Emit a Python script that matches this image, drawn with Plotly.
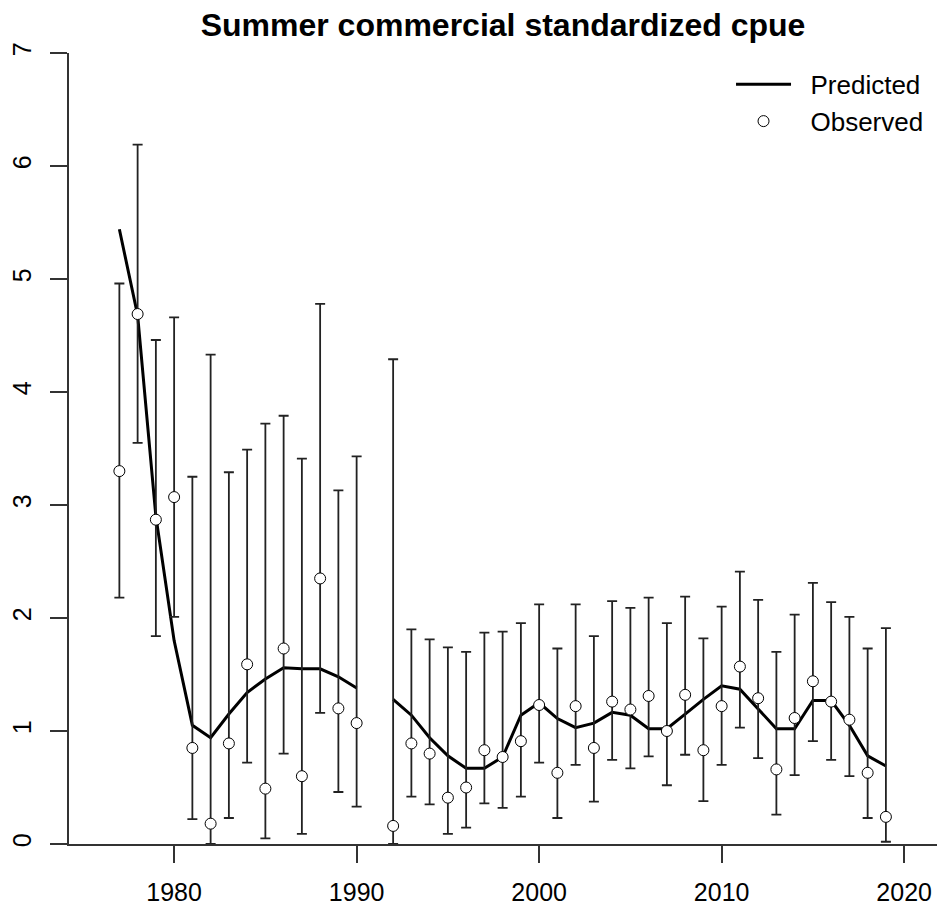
import plotly.graph_objects as go

years = list(range(1977, 2020))

observed = [3.30, 4.69, 2.87, 3.07, 0.85, 0.18, 0.89, 1.59, 0.49, 1.73,
            0.60, 2.35, 1.20, 1.07, None, 0.16, 0.89, 0.80, 0.41, 0.50,
            0.83, 0.77, 0.91, 1.23, 0.63, 1.22, 0.85, 1.26, 1.19, 1.31,
            1.00, 1.32, 0.83, 1.22, 1.57, 1.29, 0.66, 1.115, 1.44, 1.26,
            1.10, 0.63, 0.24]

lower = [2.18, 3.55, 1.84, 2.01, 0.22, 0.00, 0.23, 0.72, 0.05, 0.80,
         0.09, 1.16, 0.46, 0.33, None, 0.00, 0.42, 0.35, 0.09, 0.145,
         0.36, 0.32, 0.42, 0.72, 0.23, 0.70, 0.375, 0.745, 0.67, 0.775,
         0.52, 0.79, 0.38, 0.70, 1.03, 0.76, 0.26, 0.61, 0.91, 0.745,
         0.60, 0.23, 0.02]

upper = [4.96, 6.19, 4.46, 4.66, 3.25, 4.33, 3.29, 3.49, 3.72, 3.79,
         3.41, 4.78, 3.13, 3.43, None, 4.29, 1.90, 1.81, 1.74, 1.70,
         1.87, 1.88, 1.955, 2.12, 1.73, 2.12, 1.84, 2.15, 2.09, 2.18,
         1.955, 2.19, 1.82, 2.10, 2.41, 2.16, 1.70, 2.03, 2.31, 2.14,
         2.01, 1.73, 1.91]

predicted = [5.44, 4.68, 2.90, 1.80, 1.05, 0.94, 1.15, 1.34, 1.46, 1.56,
             1.55, 1.55, 1.48, 1.38, None, 1.28, 1.14, 0.94, 0.78, 0.67,
             0.67, 0.77, 1.14, 1.25, 1.11, 1.03, 1.07, 1.165, 1.14, 1.02,
             1.02, 1.15, 1.28, 1.40, 1.37, 1.195, 1.02, 1.02, 1.27, 1.27,
             1.05, 0.78, 0.69]

x_ticks = [1980, 1990, 2000, 2010, 2020]
y_ticks = [0, 1, 2, 3, 4, 5, 6, 7]

err_plus = [None if o is None else u - o for o, u in zip(observed, upper)]
err_minus = [None if o is None else o - l for o, l in zip(observed, lower)]

FONT = "Liberation Sans, Arial, sans-serif"
AX = "#333333"

fig = go.Figure()

fig.add_trace(go.Scatter(
    x=years, y=predicted, mode="lines", name="  Predicted",
    line=dict(color="black", width=3), connectgaps=False,
))

fig.add_trace(go.Scatter(
    x=years, y=observed, mode="markers", name="  Observed",
    marker=dict(symbol="circle", size=11, color="white",
                line=dict(color="black", width=1)),
    error_y=dict(type="data", symmetric=False, array=err_plus,
                 arrayminus=err_minus, color="#222222", thickness=1.8,
                 width=5),
))

fig.update_layout(
    width=938, height=912,
    margin=dict(l=69, r=1, t=53, b=68),
    paper_bgcolor="white", plot_bgcolor="white",
    font=dict(family=FONT, size=25, color="black"),
    title=dict(text="<b>Summer commercial standardized cpue</b>",
               x=0.5, xref="paper", xanchor="center",
               y=1 - 25 / 912, yref="container", yanchor="middle",
               font=dict(family=FONT, size=32, color="black")),
    showlegend=True,
    legend=dict(x=0.7627, y=0.99, xanchor="left", yanchor="top",
                bgcolor="rgba(0,0,0,0)", borderwidth=0,
                font=dict(family=FONT, size=26, color="black"),
                itemwidth=55, tracegroupgap=0),
    xaxis=dict(range=[1974.24, 2021.8], tickmode="array", tickvals=x_ticks,
               ticktext=[str(v) for v in x_ticks],
               showgrid=False, zeroline=False, showline=True,
               linecolor=AX, linewidth=2, ticks="outside", ticklen=17,
               tickwidth=2, tickcolor=AX, ticklabelstandoff=8,
               tickfont=dict(family=FONT, size=25, color="black")),
    yaxis=dict(range=[0, 7], tickmode="array", tickvals=y_ticks,
               ticktext=[str(v) for v in y_ticks],
               showgrid=False, zeroline=False, showline=True,
               linecolor=AX, linewidth=2, ticks="outside", ticklen=17,
               tickwidth=2, tickcolor=AX, tickangle=-90,
               ticklabelstandoff=9,
               tickfont=dict(family=FONT, size=25, color="black")),
)

fig.write_html("out.html",
               config={"displayModeBar": False},
               post_script="document.body.style.margin='0';")
